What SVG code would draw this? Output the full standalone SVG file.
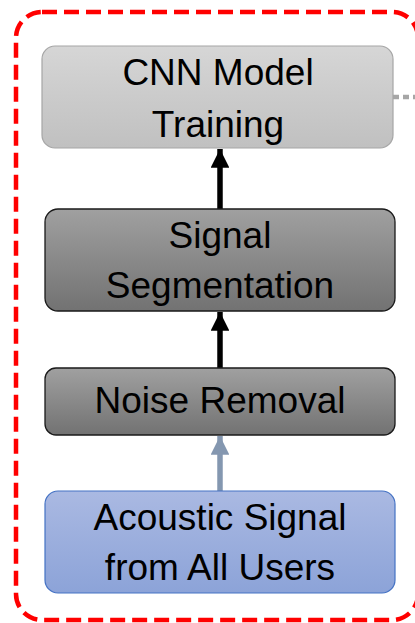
<svg xmlns="http://www.w3.org/2000/svg" width="415" height="623" viewBox="0 0 415 623">
<style>
.t{font-family:"Liberation Sans",Arial,sans-serif;font-size:37px;fill:#000;text-anchor:middle}
</style>
<defs>
<linearGradient id="gLight" x1="0" y1="0" x2="0" y2="1"><stop offset="0" stop-color="#d6d6d6"/><stop offset="1" stop-color="#c0c0c0"/></linearGradient>
<linearGradient id="gDark" x1="0" y1="0" x2="0" y2="1"><stop offset="0" stop-color="#a0a0a0"/><stop offset="1" stop-color="#727272"/></linearGradient>
<linearGradient id="gBlue" x1="0" y1="0" x2="0" y2="1"><stop offset="0" stop-color="#aab9e2"/><stop offset="1" stop-color="#8ca3d8"/></linearGradient>
<marker id="aBlack" viewBox="0 0 10 10" refX="10" refY="5" markerWidth="3.4" markerHeight="3.4" markerUnits="strokeWidth" orient="auto"><path d="M0,0L10,5L0,10z" fill="#000"/></marker>
<marker id="aBlue" viewBox="0 0 10 10" refX="10" refY="5" markerWidth="3.4" markerHeight="3.4" markerUnits="strokeWidth" orient="auto"><path d="M0,0L10,5L0,10z" fill="#8497b0"/></marker>
</defs>
<rect id="frame" x="16" y="12" width="402" height="608" rx="26" fill="none" stroke="#ff0000" stroke-width="4.5" stroke-dasharray="15 7"/>
<g id="connectors">
<line x1="220" y1="209" x2="220" y2="149" stroke="#000" stroke-width="5.5" marker-end="url(#aBlack)"/>
<line x1="220" y1="368" x2="220" y2="312" stroke="#000" stroke-width="5.5" marker-end="url(#aBlack)"/>
<line x1="220" y1="491" x2="220" y2="436" stroke="#8497b0" stroke-width="5.5" marker-end="url(#aBlue)"/>
<line x1="393" y1="97" x2="415" y2="97" stroke="#a6a6a6" stroke-width="4.5" stroke-dasharray="6 4"/>
</g>
<g id="cnn">
<rect x="42" y="46" width="351" height="102" rx="13" fill="url(#gLight)" stroke="#a6a6a6" stroke-width="1.2"/>
<text class="t" x="218" y="85">CNN Model</text>
<text class="t" x="218" y="137">Training</text>
</g>
<g id="segmentation">
<rect x="45" y="209" width="350" height="102" rx="13" fill="url(#gDark)" stroke="#1a1a1a" stroke-width="1.3"/>
<text class="t" x="220" y="248">Signal</text>
<text class="t" x="220" y="298">Segmentation</text>
</g>
<g id="noise">
<rect x="45" y="368" width="350" height="67" rx="11" fill="url(#gDark)" stroke="#1a1a1a" stroke-width="1.3"/>
<text class="t" x="220" y="413">Noise Removal</text>
</g>
<g id="acoustic">
<rect x="45" y="491" width="350" height="102" rx="13" fill="url(#gBlue)" stroke="#4472c4" stroke-width="1.2"/>
<text class="t" x="220" y="530">Acoustic Signal</text>
<text class="t" x="220" y="580">from All Users</text>
</g>
</svg>
